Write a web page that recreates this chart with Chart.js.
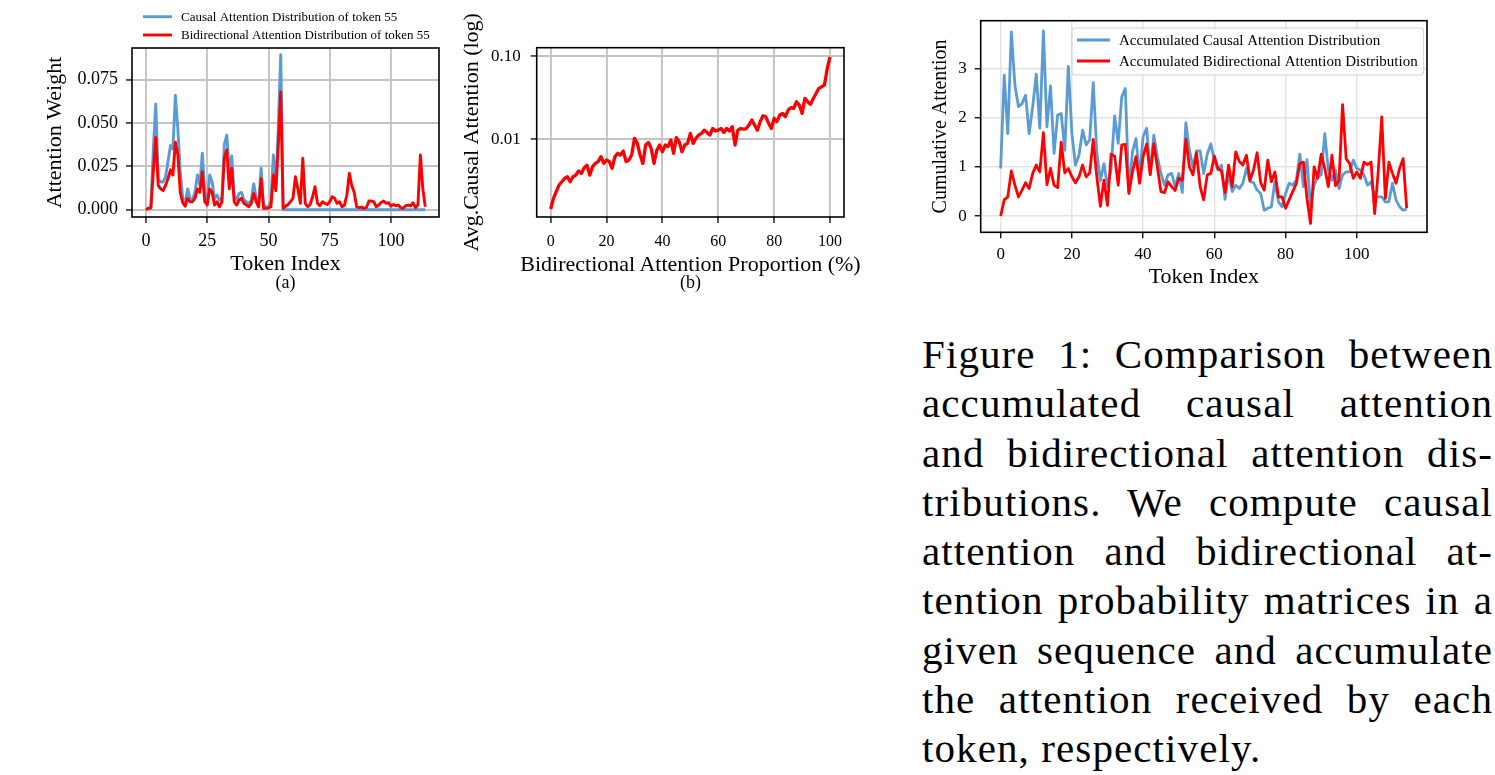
<!DOCTYPE html>
<html>
<head>
<meta charset="utf-8">
<title>Causal vs bidirectional attention</title>
<script src="https://cdn.jsdelivr.net/npm/chart.js@4.4.0/dist/chart.umd.min.js"></script>
<style>
  body { margin: 0; background: #fff; width: 1495px; height: 775px; overflow: hidden; position: relative; }
  canvas { position: absolute; top: 0; }
  .lbl { position: absolute; font-family: 'Liberation Serif', 'Times New Roman', serif; color: #000;
         white-space: nowrap; line-height: 1; transform: translate(-50%, -50%); }
  #caption { position: absolute; left: 922px; top: 330px; width: 571px;
             font-family: 'Liberation Serif', 'Times New Roman', serif; font-size: 41px;
             line-height: 49.3px; letter-spacing: 1.1px; color: #000; }
  #caption div { text-align: justify; text-align-last: justify; }
  #caption div.last { text-align-last: left; }
</style>
</head>
<body>
<canvas id="chartA" width="460" height="300" style="left:0px;width:460px;height:300px"></canvas>
<canvas id="chartB" width="420" height="300" style="left:450px;width:420px;height:300px"></canvas>
<canvas id="chartC" width="595" height="300" style="left:900px;width:595px;height:300px"></canvas>

<div class="lbl" style="left:285.5px;top:282px;font-size:18px">(a)</div>
<div class="lbl" style="left:690.5px;top:264px;font-size:22px">Bidirectional Attention Proportion (%)</div>
<div class="lbl" style="left:690.5px;top:282px;font-size:18px">(b)</div>

<div id="caption">
  <div>Figure 1: Comparison between</div>
  <div>accumulated causal attention</div>
  <div>and bidirectional attention dis-</div>
  <div>tributions. We compute causal</div>
  <div>attention and bidirectional at-</div>
  <div>tention probability matrices in a</div>
  <div>given sequence and accumulate</div>
  <div>the attention received by each</div>
  <div class="last">token, respectively.</div>
</div>

<script>
// (a) attention of token 55, one value per token index 0..114
const causalTok55 = [
  0, 0.001, 0.001, 0.035, 0.061, 0.018, 0.016, 0.016, 0.019, 0.028,
  0.037, 0.035, 0.066, 0.047, 0.022, 0.0065, 0.004, 0.012, 0.0066, 0.006,
  0.010, 0.020, 0.014, 0.0326, 0.010, 0.0046, 0.020, 0.016, 0.0065, 0.0085,
  0.0056, 0.0066, 0.038, 0.043, 0.022, 0.031, 0.0085, 0.0056, 0.0094, 0.010,
  0.0056, 0.0046, 0.0037, 0.0056, 0.015, 0.0066, 0.0046, 0.024, 0.0027, 0.0017,
  0.0017, 0.0046, 0.0316, 0.014, 0.047, 0.0895, 0, 0, 0, 0,
  0, 0, 0, 0, 0, 0, 0, 0, 0, 0,
  0, 0, 0, 0, 0, 0, 0, 0, 0, 0,
  0, 0, 0, 0, 0, 0, 0, 0, 0, 0,
  0, 0, 0, 0, 0, 0, 0, 0, 0, 0,
  0, 0, 0, 0, 0, 0, 0, 0, 0, 0,
  0, 0, 0, 0, 0
];
const bidirTok55 = [
  0, 0.0008, 0.001, 0.022, 0.0417, 0.014, 0.012, 0.011, 0.014, 0.018,
  0.023, 0.020, 0.039, 0.032, 0.010, 0.004, 0.002, 0.0066, 0.0046, 0.0046,
  0.0066, 0.012, 0.010, 0.022, 0.0046, 0.0027, 0.012, 0.010, 0.0027, 0.0046,
  0.0017, 0.0046, 0.030, 0.0345, 0.012, 0.024, 0.0046, 0.0027, 0.0056, 0.0066,
  0.0037, 0.0027, 0.0017, 0.0037, 0.0094, 0.0046, 0.0017, 0.018, 0.0008, 0.0008,
  0.001, 0.0017, 0.020, 0.011, 0.037, 0.068, 0.0008, 0.002, 0.003, 0.0046,
  0.0066, 0.019, 0.012, 0.0037, 0.0297, 0.0037, 0.0017, 0.003, 0.0075, 0.0133,
  0.0037, 0.0023, 0.0046, 0.0037, 0.003, 0.0046, 0.0075, 0.0066, 0.0037, 0.0046,
  0.0017, 0.0027, 0.0085, 0.021, 0.014, 0.010, 0.0017, 0.0012, 0.0015, 0.0008,
  0.0013, 0.005, 0.005, 0.0046, 0.0017, 0.0027, 0.0042, 0.005, 0.0037, 0.004,
  0.0021, 0.003, 0.0023, 0.0027, 0.0012, 0.0008, 0.0023, 0.0027, 0.0023, 0.004,
  0.0012, 0.0027, 0.0316, 0.012, 0.0017
];

// (b) avg causal attention for bidirectional proportion 0..100 %
const avgCausal = [
  0.00146, 0.00196, 0.00236, 0.00283, 0.0031, 0.0034, 0.00356, 0.0031, 0.00356, 0.00373,
  0.00417, 0.0039, 0.00457, 0.0049, 0.00373, 0.0047, 0.00515, 0.0054, 0.0062, 0.00515,
  0.00565, 0.0054, 0.0045, 0.0062, 0.0068, 0.0065, 0.00724, 0.0054, 0.00565, 0.0065,
  0.0103, 0.00895, 0.0065, 0.00515, 0.00855, 0.0092, 0.0078, 0.00515, 0.0074, 0.00855,
  0.0071, 0.00855, 0.0082, 0.0098, 0.0068, 0.0105, 0.0094, 0.0071, 0.00855, 0.00895,
  0.0118, 0.00895, 0.0103, 0.0113, 0.0118, 0.0129, 0.0121, 0.0113, 0.0135, 0.0126,
  0.0129, 0.0135, 0.0121, 0.0135, 0.0126, 0.0142, 0.00855, 0.0129, 0.0135, 0.0133,
  0.0135, 0.0149, 0.0171, 0.0149, 0.0129, 0.0163, 0.0192, 0.0187, 0.0156, 0.0135,
  0.0179, 0.0163, 0.0196, 0.0205, 0.0187, 0.0225, 0.024, 0.0235, 0.0283, 0.0258,
  0.0205, 0.031, 0.0283, 0.0263, 0.031, 0.0356, 0.041, 0.0428, 0.0449, 0.0711,
  0.098
];
const bidirPct = avgCausal.map((_, i) => i);

// (c) accumulated attention per token 0..114
const accCausal = [
  0.97, 2.87, 1.68, 3.75, 2.67, 2.23, 2.29, 2.46, 1.68, 2.23,
  2.89, 1.79, 3.77, 1.82, 2.65, 1.28, 2.06, 2.09, 1.34, 3.05,
  1.68, 1.04, 1.24, 1.75, 1.45, 1.55, 2.72, 1.3, 0.72, 1.07,
  0.6, 0.95, 2.04, 1.48, 2.43, 2.6, 0.5, 1.31, 1.58, 0.8,
  1.62, 1.79, 0.87, 1.65, 1.21, 0.87, 0.63, 0.84, 0.87, 0.6,
  0.87, 0.48, 1.9, 1.34, 1.0, 1.33, 1.33, 0.87, 1.26, 1.47,
  1.14, 0.94, 1.04, 0.34, 0.87, 0.5, 0.63, 0.56, 0.67, 0.97,
  0.7, 0.68, 0.53, 0.46, 0.12, 0.16, 0.19, 0.7, 0.29, 0.19,
  0.46, 0.67, 0.63, 0.73, 1.26, 0.6, 1.15, 0.19, 0.63, 0.8,
  0.84, 1.68, 0.94, 0.73, 0.94, 0.56, 0.84, 0.9, 0.9, 1.14,
  0.97, 0.94, 0.84, 0.63, 0.7, 0.39, 0.39, 0.39, 0.29, 0.29,
  0.67, 0.33, 0.19, 0.12, 0.14
];
const accBidir = [
  0.0, 0.33, 0.39, 0.92, 0.63, 0.39, 0.53, 0.68, 0.56, 0.87,
  1.04, 0.9, 1.7, 0.64, 0.97, 0.63, 0.58, 1.5, 0.88, 0.97,
  0.8, 0.68, 0.8, 1.04, 0.8, 0.88, 1.56, 0.8, 0.2, 0.73,
  0.22, 1.26, 1.22, 0.63, 1.45, 1.46, 0.46, 0.9, 1.21, 0.67,
  1.21, 1.47, 0.84, 1.47, 1.0, 0.5, 0.48, 0.7, 0.6, 0.52,
  0.77, 0.73, 1.56, 1.0, 0.84, 1.29, 0.6, 0.33, 0.84, 0.87,
  1.22, 0.97, 0.92, 0.48, 1.04, 0.6, 1.31, 1.11, 1.04, 1.24,
  0.73, 0.94, 1.29, 0.68, 0.53, 1.14, 0.7, 0.9, 0.39, 0.39,
  0.16, 0.33, 0.5, 0.66, 1.07, 1.1, 0.36, -0.15, 1.0, 0.77,
  1.26, 0.97, 0.6, 1.24, 0.62, 0.73, 2.27, 1.17, 1.07, 0.77,
  0.9, 0.77, 1.1, 1.05, 1.1, 0.05, 0.9, 2.02, 0.36, 1.1,
  0.87, 0.67, 0.97, 1.17, 0.16
];

// tick labels
const ticksAx = [0, 25, 50, 75, 100];
const ticksAy = [0, 0.025, 0.05, 0.075];
const ticksBx = [0, 20, 40, 60, 80, 100];
const ticksBy = [0.01, 0.1];
const ticksCx = [0, 20, 40, 60, 80, 100];
const ticksCy = [0, 1, 2, 3];

const BLUE = '#5b9bd5';
const RED = '#ff0000';
const SERIF = "'Liberation Serif', 'Times New Roman', serif";

Chart.defaults.font.family = SERIF;
Chart.defaults.color = '#000';
Chart.defaults.animation = false;

// black box round the plot area, like matplotlib spines
const framePlugin = {
  id: 'frame',
  afterDatasetsDraw(chart) {
    const a = chart.chartArea, ctx = chart.ctx;
    ctx.save();
    ctx.strokeStyle = '#000';
    ctx.lineWidth = 1.6;
    ctx.strokeRect(a.left, a.top, a.right - a.left, a.bottom - a.top);
    ctx.restore();
  }
};

// matplotlib style legend: line handle + label, one row per dataset
const mplLegend = {
  id: 'mplLegend',
  afterDraw(chart, args, o) {
    if (o.x === undefined) return;
    const ctx = chart.ctx;
    const ds = chart.data.datasets;
    const textX = o.x + o.len + o.gap;
    ctx.save();
    ctx.font = o.size + 'px ' + SERIF;
    if (o.frame) {
      let w = 0;
      ds.forEach(d => { w = Math.max(w, ctx.measureText(d.label).width); });
      const fx = o.x - 5, fy = o.y - 12;
      const fw = textX + w + 6 - fx, fh = o.rowH * (ds.length - 1) + 26;
      ctx.beginPath();
      ctx.roundRect(fx, fy, fw, fh, 3);
      ctx.fillStyle = 'rgba(255,255,255,0.8)';
      ctx.fill();
      ctx.strokeStyle = '#d0d0d0';
      ctx.lineWidth = 1;
      ctx.stroke();
    }
    ds.forEach((d, i) => {
      const y = o.y + i * o.rowH;
      ctx.beginPath();
      ctx.moveTo(o.x, y);
      ctx.lineTo(o.x + o.len, y);
      ctx.strokeStyle = d.borderColor;
      ctx.lineWidth = d.borderWidth;
      ctx.stroke();
      ctx.fillStyle = '#000';
      ctx.textBaseline = 'middle';
      ctx.textAlign = 'left';
      ctx.fillText(d.label, textX, y + 1);
    });
    ctx.restore();
  }
};

function series(label, xs, ys, color, width, order) {
  return {
    label: label,
    data: ys.map((v, i) => ({x: xs[i], y: v})),
    borderColor: color,
    backgroundColor: color,
    borderWidth: width,
    pointRadius: 0,
    tension: 0,
    borderJoinStyle: 'round',
    order: order
  };
}

function axis(o) {
  const isX = o.pos === 'bottom';
  const s = {
    type: o.type || 'linear',
    position: o.pos,
    min: o.min,
    max: o.max,
    afterBuildTicks: sc => { sc.ticks = o.ticks.map(v => ({value: v})); },
    afterFit: sc => { if (isX) sc.height = o.size; else sc.width = o.size; },
    grid: { color: o.grid, lineWidth: o.gridW, tickColor: '#000', tickWidth: 1.3, tickLength: 6 },
    border: { display: false },
    ticks: { font: {size: o.fs}, padding: o.pad, autoSkip: false, maxRotation: 0,
             callback: o.fmt || (v => String(v)) },
    title: { display: false }
  };
  if (o.title) {
    s.title = { display: true, text: o.title, font: {size: o.titleSize},
                padding: isX ? {top: 0, bottom: o.titlePad} : {top: o.titlePad, bottom: 0} };
  }
  return s;
}

const tokensA = causalTok55.map((_, i) => i);
const tokensC = accCausal.map((_, i) => i);

// (a)
new Chart(document.getElementById('chartA'), {
  type: 'line',
  data: { datasets: [
    series('Causal Attention Distribution of token 55', tokensA, causalTok55, BLUE, 2.9, 1),
    series('Bidirectional Attention Distribution of token 55', tokensA, bidirTok55, RED, 2.9, 0)
  ]},
  options: {
    responsive: false,
    layout: { padding: {top: 48, right: 21, left: 0, bottom: 0} },
    plugins: {
      legend: {display: false}, tooltip: {enabled: false},
      mplLegend: { x: 143, y: 16.7, rowH: 18.3, len: 29, gap: 9, size: 13 }
    },
    scales: {
      x: axis({pos: 'bottom', min: -5.7, max: 119.6, ticks: ticksAx, size: 83, grid: '#c4c4c4', gridW: 1.9,
               fs: 18, pad: 7, title: 'Token Index', titleSize: 22, titlePad: 23}),
      y: axis({pos: 'left', min: -0.0042, max: 0.0933, ticks: ticksAy, size: 132, grid: '#c4c4c4', gridW: 1.9,
               fs: 18, pad: 8, fmt: v => v.toFixed(3), title: 'Attention Weight', titleSize: 22, titlePad: 42})
    }
  },
  plugins: [framePlugin, mplLegend]
});

// (b)
new Chart(document.getElementById('chartB'), {
  type: 'line',
  data: { datasets: [
    series('Avg. causal attention', bidirPct, avgCausal, RED, 3.3, 0)
  ]},
  options: {
    responsive: false,
    layout: { padding: {top: 47.7, right: 26, left: 0, bottom: 0} },
    plugins: { legend: {display: false}, tooltip: {enabled: false} },
    scales: {
      x: axis({pos: 'bottom', min: -5, max: 105, ticks: ticksBx, size: 83, grid: '#c4c4c4', gridW: 1.9,
               fs: 16, pad: 9}),
      y: axis({pos: 'left', type: 'logarithmic', min: 0.00117, max: 0.126, ticks: ticksBy, size: 86.7,
               grid: '#c4c4c4', gridW: 1.9, fs: 17, pad: 10, fmt: v => v.toFixed(2),
               title: 'Avg.Causal Attention (log)', titleSize: 22, titlePad: 8.8})
    }
  },
  plugins: [framePlugin]
});

// (c)
new Chart(document.getElementById('chartC'), {
  type: 'line',
  data: { datasets: [
    series('Accumulated Causal Attention Distribution', tokensC, accCausal, BLUE, 2.8, 1),
    series('Accumulated Bidirectional Attention Distribution', tokensC, accBidir, RED, 2.8, 0)
  ]},
  options: {
    responsive: false,
    layout: { padding: {top: 20.7, right: 68, left: 0, bottom: 0} },
    plugins: {
      legend: {display: false}, tooltip: {enabled: false},
      mplLegend: { x: 177, y: 40, rowH: 21, len: 33, gap: 9, size: 15, frame: true }
    },
    scales: {
      x: axis({pos: 'bottom', min: -5.6, max: 119.7, ticks: ticksCx, size: 67.7, grid: '#e4e4e4', gridW: 1.5,
               fs: 17, pad: 6, title: 'Token Index', titleSize: 22, titlePad: 9.8}),
      y: axis({pos: 'left', min: -0.33, max: 3.98, ticks: ticksCy, size: 80.7, grid: '#e4e4e4', gridW: 1.5,
               fs: 17, pad: 8, title: 'Cumulative Attention', titleSize: 20, titlePad: 29})
    }
  },
  plugins: [framePlugin, mplLegend]
});
</script>
</body>
</html>
